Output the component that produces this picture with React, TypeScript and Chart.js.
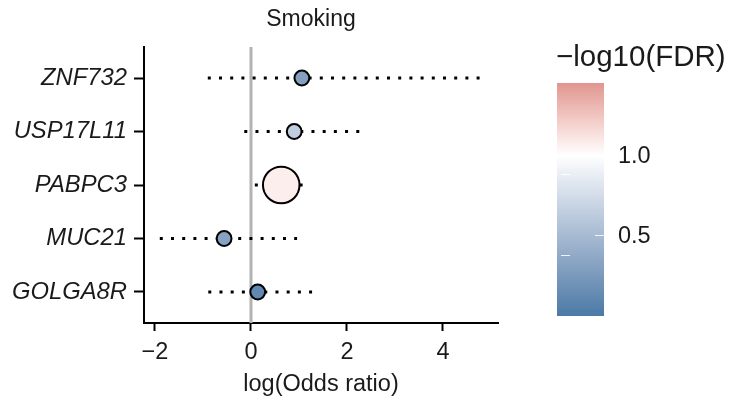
import React, { useEffect, useRef } from "react";
import { Chart, registerables } from "chart.js";

Chart.register(...registerables);

// ---------- data ----------
const genes = ["ZNF732", "USP17L11", "PABPC3", "MUC21", "GOLGA8R"];
const logOddsRatio = [1.06, 0.9, 0.63, -0.56, 0.14];
const ciLower = [-0.9, -0.14, 0.08, -1.9, -0.89];
const ciUpper = [4.84, 2.27, 1.23, 0.96, 1.39];
const negLog10FDR = [0.3, 0.64, 1.07, 0.32, 0.11];
const dotSize = [1, 1, 6.1, 1, 1];
const xTicks = [-2, 0, 2, 4];
const colorbarBreaks = [0.5, 1.0];
const colorbarLabels = ["0.5", "1.0"];
const fdrMin = 0;
const fdrMax = 1.45;
const fdrMid = 1.0;
const panelTitle = "Smoking";
const xTitle = "log(Odds ratio)";
const legendTitle = "\u2212log10(FDR)";

// ---------- colour helpers (Lab interpolation like ggplot) ----------
const LOW_RGB = [74, 122, 166];
const MID_RGB = [255, 255, 255];
const HIGH_RGB = [224, 150, 143];

function toLin(c: number) {
  c /= 255;
  return c <= 0.04045 ? c / 12.92 : Math.pow((c + 0.055) / 1.055, 2.4);
}
function fromLin(c: number) {
  const v = c <= 0.0031308 ? 12.92 * c : 1.055 * Math.pow(c, 1 / 2.4) - 0.055;
  return Math.max(0, Math.min(255, Math.round(v * 255)));
}
function rgb2lab(rgb: number[]) {
  const r = toLin(rgb[0]), g = toLin(rgb[1]), b = toLin(rgb[2]);
  const X = (0.4124 * r + 0.3576 * g + 0.1805 * b) / 0.95047;
  const Y = 0.2126 * r + 0.7152 * g + 0.0722 * b;
  const Z = (0.0193 * r + 0.1192 * g + 0.9505 * b) / 1.08883;
  const f = (t: number) => (t > 0.008856 ? Math.cbrt(t) : 7.787 * t + 16 / 116);
  const fx = f(X), fy = f(Y), fz = f(Z);
  return [116 * fy - 16, 500 * (fx - fy), 200 * (fy - fz)];
}
function lab2rgb(lab: number[]) {
  const fy = (lab[0] + 16) / 116;
  const fx = fy + lab[1] / 500;
  const fz = fy - lab[2] / 200;
  const inv = (t: number) => (t * t * t > 0.008856 ? t * t * t : (t - 16 / 116) / 7.787);
  const X = inv(fx) * 0.95047, Y = inv(fy), Z = inv(fz) * 1.08883;
  const r = 3.2406 * X - 1.5372 * Y - 0.4986 * Z;
  const g = -0.9689 * X + 1.8758 * Y + 0.0415 * Z;
  const b = 0.0557 * X - 0.204 * Y + 1.057 * Z;
  return [fromLin(r), fromLin(g), fromLin(b)];
}
const LOW_LAB = rgb2lab(LOW_RGB);
const MID_LAB = rgb2lab(MID_RGB);
const HIGH_LAB = rgb2lab(HIGH_RGB);
function fdrColor(v: number) {
  let a: number[], b: number[], t: number;
  if (v <= fdrMid) {
    a = LOW_LAB; b = MID_LAB; t = (v - fdrMin) / (fdrMid - fdrMin);
  } else {
    a = MID_LAB; b = HIGH_LAB; t = (v - fdrMid) / (fdrMax - fdrMid);
  }
  t = Math.max(0, Math.min(1, t));
  const lab = [0, 1, 2].map((i) => a[i] + (b[i] - a[i]) * t);
  const rgb = lab2rgb(lab);
  return `rgb(${rgb[0]},${rgb[1]},${rgb[2]})`;
}

const FONT = '"Liberation Sans", Arial, Helvetica, sans-serif';

const extrasPlugin = {
  id: "extras",
  beforeDatasetsDraw(chart: any) {
    const { ctx, chartArea, scales } = chart;
    const px = scales.x.getPixelForValue(0);
    ctx.save();
    ctx.strokeStyle = "#b3b3b3";
    ctx.lineWidth = 3;
    ctx.beginPath();
    ctx.moveTo(px, chartArea.top);
    ctx.lineTo(px, chartArea.bottom);
    ctx.stroke();
    ctx.restore();
  },
  afterDraw(chart: any) {
    const { ctx } = chart;
    ctx.save();
    // panel title
    ctx.fillStyle = "#1a1a1a";
    ctx.font = `23px ${FONT}`;
    ctx.textAlign = "center";
    ctx.textBaseline = "middle";
    ctx.fillText(panelTitle, 311, 20);

    // colour bar
    const cbLeft = 557, cbRight = 604, cbTop = 83, cbBottom = 316;
    const vToY = (v: number) => cbBottom - ((v - fdrMin) / (fdrMax - fdrMin)) * (cbBottom - cbTop);
    for (let yy = cbTop; yy < cbBottom; yy++) {
      const v = fdrMax - ((yy + 0.5 - cbTop) / (cbBottom - cbTop)) * (fdrMax - fdrMin);
      ctx.fillStyle = fdrColor(v);
      ctx.fillRect(cbLeft, yy, cbRight - cbLeft, 1);
    }
    // colour bar ticks
    ctx.strokeStyle = "rgba(255,255,255,0.85)";
    ctx.lineWidth = 1;
    colorbarBreaks.forEach((b) => {
      const y = Math.round(vToY(b)) + 0.5;
      ctx.beginPath();
      ctx.moveTo(cbRight - 9, y - 1);
      ctx.lineTo(cbRight, y - 1);
      ctx.stroke();
      ctx.beginPath();
      ctx.moveTo(cbLeft + 4, y + 19);
      ctx.lineTo(cbLeft + 13, y + 19);
      ctx.stroke();
    });
    // colour bar labels
    ctx.fillStyle = "#1a1a1a";
    ctx.font = `23.5px ${FONT}`;
    ctx.textAlign = "left";
    ctx.textBaseline = "middle";
    colorbarBreaks.forEach((b, i) => {
      ctx.fillText(colorbarLabels[i], 618, vToY(b) + 1);
    });
    // legend title
    ctx.font = `29.5px ${FONT}`;
    ctx.fillText(legendTitle, 556, 58);
    ctx.restore();
  },
};

export default function App() {
  const canvasRef = useRef<HTMLCanvasElement | null>(null);

  useEffect(() => {
    if (!canvasRef.current) return;
    Chart.defaults.font.family = FONT;
    const n = genes.length;
    const yPos = genes.map((_, i) => n - i);

    const lineSets = genes.map((g, i) => ({
      type: "line" as const,
      label: g + " CI",
      data: [
        { x: ciLower[i], y: yPos[i] },
        { x: ciUpper[i], y: yPos[i] },
      ],
      borderColor: "#000",
      borderWidth: 3,
      borderDash: [3, 8.2],
      borderCapStyle: "butt" as const,
      pointRadius: 0,
      showLine: true,
      fill: false,
      order: 2,
    }));

    const pointSet = {
      type: "scatter" as const,
      label: "genes",
      data: genes.map((_, i) => ({ x: logOddsRatio[i], y: yPos[i] })),
      backgroundColor: negLog10FDR.map((v) => fdrColor(v)),
      borderColor: "#000",
      borderWidth: 2,
      pointRadius: dotSize.map((s) => 7.4 * Math.sqrt(s)),
      pointHoverRadius: dotSize.map((s) => 7.4 * Math.sqrt(s)),
      order: 1,
    };

    const chart = new Chart(canvasRef.current, {
      type: "scatter",
      data: { datasets: [pointSet as any, ...(lineSets as any[])] },
      options: {
        responsive: false,
        animation: false,
        events: [],
        layout: { padding: { left: 0, top: 47, right: 231, bottom: 0 } },
        plugins: { legend: { display: false }, tooltip: { enabled: false }, title: { display: false } },
        scales: {
          x: {
            type: "linear",
            min: -2.229,
            max: 5.146,
            afterBuildTicks: (axis: any) => {
              axis.ticks = xTicks.map((v) => ({ value: v }));
            },
            afterFit: (scale: any) => {
              scale.height = 77;
            },
            border: { display: true, color: "#000", width: 2 },
            grid: { display: true, drawOnChartArea: false, drawTicks: true, tickLength: 8, tickColor: "#000", tickWidth: 2 },
            ticks: {
              color: "#1a1a1a",
              font: { size: 23.5 },
              padding: 7,
              maxRotation: 0,
              autoSkip: false,
              callback: (v: any) => (Number(v) < 0 ? "\u2212" + Math.abs(Number(v)) : String(v)),
            },
            title: {
              display: true,
              text: xTitle,
              color: "#1a1a1a",
              font: { size: 23.5 },
              padding: { top: 0, bottom: 1 },
            },
          },
          y: {
            type: "linear",
            min: 0.42,
            max: 5.58,
            afterBuildTicks: (axis: any) => {
              axis.ticks = yPos.map((v) => ({ value: v }));
            },
            afterFit: (scale: any) => {
              scale.width = 144;
            },
            border: { display: true, color: "#000", width: 2 },
            grid: { display: true, drawOnChartArea: false, drawTicks: true, tickLength: 10, tickColor: "#000", tickWidth: 2 },
            ticks: {
              color: "#1a1a1a",
              font: { size: 23.8, style: "italic" },
              padding: 7,
              autoSkip: false,
              callback: (v: any) => {
                const idx = yPos.indexOf(Number(v));
                return idx >= 0 ? genes[idx] : "";
              },
            },
          },
        },
      },
      plugins: [extrasPlugin],
    } as any);

    return () => chart.destroy();
  }, []);

  return (
    <div style={{ position: "absolute", left: 0, top: 0, width: 729, height: 400, background: "#fff" }}>
      <canvas ref={canvasRef} width={729} height={400} style={{ display: "block" }} />
    </div>
  );
}
